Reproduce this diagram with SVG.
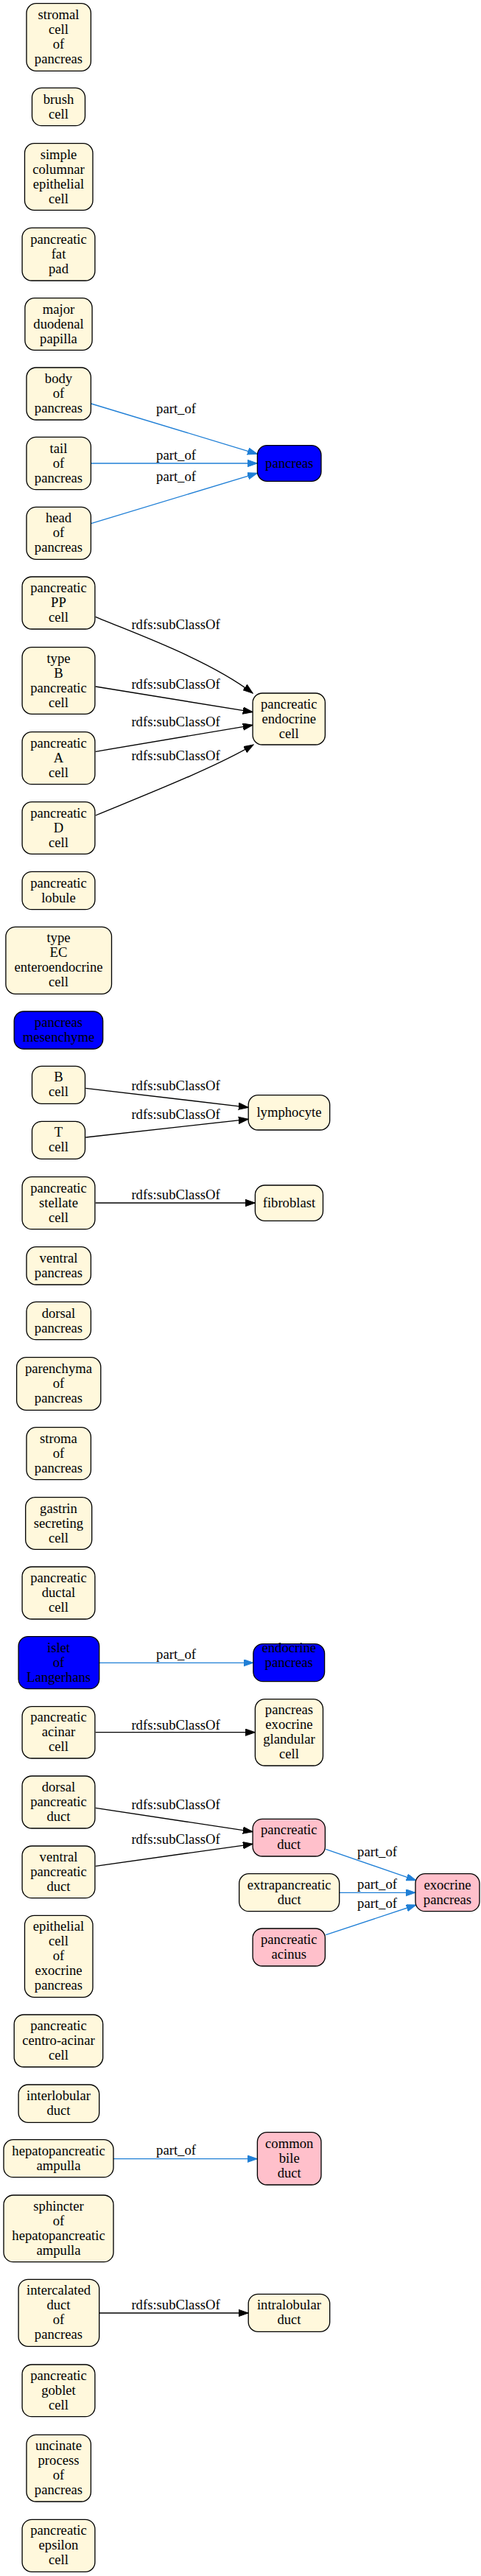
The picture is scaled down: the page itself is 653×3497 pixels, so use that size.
<svg xmlns="http://www.w3.org/2000/svg" width="653" height="3497" viewBox="0 0 653 3497">
<style>
g rect{stroke:#000;stroke-width:1.33}
.c{fill:#fff8dc}.b{fill:#0000ff}.p{fill:#ffc0cb}
text{font-family:"Liberation Serif","Times New Roman",serif;font-size:18.67px;text-anchor:middle;fill:#000}
.e{fill:none;stroke-width:1.33}
.k{stroke:#000}.u{stroke:#1f7fd6}
</style>
<defs>
<marker id="ak" markerUnits="userSpaceOnUse" markerWidth="14" markerHeight="10" refX="13.3" refY="4.65" orient="auto"><path d="M0,0 L13.3,4.65 L0,9.3 z" fill="#000" stroke="#000" stroke-width="1"/></marker>
<marker id="au" markerUnits="userSpaceOnUse" markerWidth="14" markerHeight="10" refX="13.3" refY="4.65" orient="auto"><path d="M0,0 L13.3,4.65 L0,9.3 z" fill="#1f7fd6" stroke="#1f7fd6" stroke-width="1"/></marker>
</defs>
<g id="edges">
<path class="e u" marker-end="url(#au)" d="M123.8,548 L349.4,616.3"/>
<text x="239" y="560.7">part_of</text>
<path class="e u" marker-end="url(#au)" d="M123.8,629 L349.4,629"/>
<text x="239" y="624.3">part_of</text>
<path class="e u" marker-end="url(#au)" d="M123.8,710.7 L349.4,642.3"/>
<text x="239" y="652.7">part_of</text>
<path class="e k" marker-end="url(#ak)" d="M129.7,837.3 C170,855 280,893 343.1,941"/>
<text x="238.5" y="854.3">rdfs:subClassOf</text>
<path class="e k" marker-end="url(#ak)" d="M129.7,932 L343.1,966.7"/>
<text x="238.5" y="935.3">rdfs:subClassOf</text>
<path class="e k" marker-end="url(#ak)" d="M129.7,1020.3 L343.1,984.3"/>
<text x="238.5" y="986">rdfs:subClassOf</text>
<path class="e k" marker-end="url(#ak)" d="M129.7,1107 C190,1082 290,1043 344,1011"/>
<text x="238.5" y="1032">rdfs:subClassOf</text>
<path class="e k" marker-end="url(#ak)" d="M116.3,1477.3 L337.2,1503.3"/>
<text x="238.5" y="1480">rdfs:subClassOf</text>
<path class="e k" marker-end="url(#ak)" d="M116.3,1544 L337.2,1519.3"/>
<text x="238.5" y="1518.7">rdfs:subClassOf</text>
<path class="e k" marker-end="url(#ak)" d="M129.7,1633 L346.4,1633"/>
<text x="238.5" y="1628.3">rdfs:subClassOf</text>
<path class="e u" marker-end="url(#au)" d="M134.7,2257.3 L343.9,2257.3"/>
<text x="239" y="2252.3">part_of</text>
<path class="e k" marker-end="url(#ak)" d="M129.7,2351.7 L346.4,2351.7"/>
<text x="238.5" y="2348">rdfs:subClassOf</text>
<path class="e k" marker-end="url(#ak)" d="M129.7,2454.3 L343.1,2486.7"/>
<text x="238.5" y="2456">rdfs:subClassOf</text>
<path class="e k" marker-end="url(#ak)" d="M129.7,2533.3 L343.1,2503.3"/>
<text x="238.5" y="2503">rdfs:subClassOf</text>
<path class="e u" marker-end="url(#au)" d="M442.3,2510.3 L564.9,2552.7"/>
<text x="512" y="2520.3">part_of</text>
<path class="e u" marker-end="url(#au)" d="M460.7,2569.3 L564,2569.3"/>
<text x="512" y="2564.3">part_of</text>
<path class="e u" marker-end="url(#au)" d="M442.3,2626.7 L564.9,2586"/>
<text x="512" y="2590.3">part_of</text>
<path class="e u" marker-end="url(#au)" d="M154,2930.7 L349.4,2930.7"/>
<text x="239" y="2925">part_of</text>
<path class="e k" marker-end="url(#ak)" d="M134.7,3140 L337.2,3140"/>
<text x="238.5" y="3135">rdfs:subClassOf</text>
</g>
<g id="n1"><rect class="c" x="36" y="4.7" width="87.4" height="91.6" rx="13"/><text x="79.5" y="26.1">stromal</text><text x="79.5" y="46.1">cell</text><text x="79.5" y="66.1">of</text><text x="79.5" y="86.1">pancreas</text></g>
<g id="n2"><rect class="c" x="43.5" y="119.3" width="72" height="51.4" rx="13"/><text x="79.5" y="140.6">brush</text><text x="79.5" y="160.6">cell</text></g>
<g id="n3"><rect class="c" x="33.5" y="194.7" width="92.5" height="90.6" rx="13"/><text x="79.5" y="215.6">simple</text><text x="79.5" y="235.6">columnar</text><text x="79.5" y="255.6">epithelial</text><text x="79.5" y="275.6">cell</text></g>
<g id="n4"><rect class="c" x="30.1" y="309.3" width="98.8" height="71.7" rx="13"/><text x="79.5" y="330.8">pancreatic</text><text x="79.5" y="350.8">fat</text><text x="79.5" y="370.8">pad</text></g>
<g id="n5"><rect class="c" x="33.9" y="404.7" width="91.2" height="70.6" rx="13"/><text x="79.5" y="425.6">major</text><text x="79.5" y="445.6">duodenal</text><text x="79.5" y="465.6">papilla</text></g>
<g id="n6"><rect class="c" x="36" y="499" width="87.4" height="71" rx="13"/><text x="79.5" y="520.1">body</text><text x="79.5" y="540.1">of</text><text x="79.5" y="560.1">pancreas</text></g>
<g id="n7"><rect class="c" x="36" y="593.3" width="87.4" height="71.4" rx="13"/><text x="79.5" y="614.6">tail</text><text x="79.5" y="634.6">of</text><text x="79.5" y="654.6">pancreas</text></g>
<g id="n8"><rect class="c" x="36" y="688.3" width="87.4" height="71" rx="13"/><text x="79.5" y="709.4">head</text><text x="79.5" y="729.4">of</text><text x="79.5" y="749.4">pancreas</text></g>
<g id="n9"><rect class="c" x="30.1" y="783" width="98.8" height="71" rx="13"/><text x="79.5" y="804.1">pancreatic</text><text x="79.5" y="824.1">PP</text><text x="79.5" y="844.1">cell</text></g>
<g id="n10"><rect class="c" x="30.1" y="878.7" width="98.8" height="90.6" rx="13"/><text x="79.5" y="899.6">type</text><text x="79.5" y="919.6">B</text><text x="79.5" y="939.6">pancreatic</text><text x="79.5" y="959.6">cell</text></g>
<g id="n11"><rect class="c" x="30.1" y="993.7" width="98.8" height="71" rx="13"/><text x="79.5" y="1014.8">pancreatic</text><text x="79.5" y="1034.8">A</text><text x="79.5" y="1054.8">cell</text></g>
<g id="n12"><rect class="c" x="30.1" y="1088.7" width="98.8" height="70.6" rx="13"/><text x="79.5" y="1109.6">pancreatic</text><text x="79.5" y="1129.6">D</text><text x="79.5" y="1149.6">cell</text></g>
<g id="n13"><rect class="c" x="30.1" y="1183.3" width="98.8" height="51.4" rx="13"/><text x="79.5" y="1204.6">pancreatic</text><text x="79.5" y="1224.6">lobule</text></g>
<g id="n14"><rect class="c" x="7.9" y="1258.3" width="143.6" height="91" rx="13"/><text x="79.5" y="1279.4">type</text><text x="79.5" y="1299.4">EC</text><text x="79.5" y="1319.4">enteroendocrine</text><text x="79.5" y="1339.4">cell</text></g>
<g id="n15"><rect class="b" x="19.2" y="1373" width="120.5" height="51" rx="13"/><text x="79.5" y="1394.1">pancreas</text><text x="79.5" y="1414.1">mesenchyme</text></g>
<g id="n16"><rect class="c" x="43.5" y="1447.3" width="72" height="51" rx="13"/><text x="79.5" y="1468.4">B</text><text x="79.5" y="1488.4">cell</text></g>
<g id="n17"><rect class="c" x="43.5" y="1522.3" width="72" height="51" rx="13"/><text x="79.5" y="1543.4">T</text><text x="79.5" y="1563.4">cell</text></g>
<g id="n18"><rect class="c" x="30.1" y="1597.7" width="98.8" height="71" rx="13"/><text x="79.5" y="1618.8">pancreatic</text><text x="79.5" y="1638.8">stellate</text><text x="79.5" y="1658.8">cell</text></g>
<g id="n19"><rect class="c" x="36" y="1692.7" width="87.4" height="51.3" rx="13"/><text x="79.5" y="1713.9">ventral</text><text x="79.5" y="1733.9">pancreas</text></g>
<g id="n20"><rect class="c" x="36" y="1767.3" width="87.4" height="51.4" rx="13"/><text x="79.5" y="1788.6">dorsal</text><text x="79.5" y="1808.6">pancreas</text></g>
<g id="n21"><rect class="c" x="22.6" y="1842.7" width="114.2" height="71.6" rx="13"/><text x="79.5" y="1864.1">parenchyma</text><text x="79.5" y="1884.1">of</text><text x="79.5" y="1904.1">pancreas</text></g>
<g id="n22"><rect class="c" x="36" y="1937.7" width="87.4" height="71" rx="13"/><text x="79.5" y="1958.8">stroma</text><text x="79.5" y="1978.8">of</text><text x="79.5" y="1998.8">pancreas</text></g>
<g id="n23"><rect class="c" x="34.7" y="2032.7" width="90" height="70.6" rx="13"/><text x="79.5" y="2053.6">gastrin</text><text x="79.5" y="2073.6">secreting</text><text x="79.5" y="2093.6">cell</text></g>
<g id="n24"><rect class="c" x="30.1" y="2127" width="98.8" height="71" rx="13"/><text x="79.5" y="2148.1">pancreatic</text><text x="79.5" y="2168.1">ductal</text><text x="79.5" y="2188.1">cell</text></g>
<g id="n25"><rect class="b" x="25.1" y="2221.7" width="109.6" height="71" rx="13"/><text x="79.5" y="2242.8">islet</text><text x="79.5" y="2262.8">of</text><text x="79.5" y="2282.8">Langerhans</text></g>
<g id="n26"><rect class="c" x="30.1" y="2316.7" width="98.8" height="70.3" rx="13"/><text x="79.5" y="2337.4">pancreatic</text><text x="79.5" y="2357.4">acinar</text><text x="79.5" y="2377.4">cell</text></g>
<g id="n27"><rect class="c" x="30.1" y="2411" width="98.8" height="71" rx="13"/><text x="79.5" y="2432.1">dorsal</text><text x="79.5" y="2452.1">pancreatic</text><text x="79.5" y="2472.1">duct</text></g>
<g id="n28"><rect class="c" x="30.1" y="2506" width="98.8" height="70.7" rx="13"/><text x="79.5" y="2526.9">ventral</text><text x="79.5" y="2546.9">pancreatic</text><text x="79.5" y="2566.9">duct</text></g>
<g id="n29"><rect class="c" x="33.5" y="2600.3" width="92.5" height="111" rx="13"/><text x="79.5" y="2621.4">epithelial</text><text x="79.5" y="2641.4">cell</text><text x="79.5" y="2661.4">of</text><text x="79.5" y="2681.4">exocrine</text><text x="79.5" y="2701.4">pancreas</text></g>
<g id="n30"><rect class="c" x="19.2" y="2735" width="120.5" height="71" rx="13"/><text x="79.5" y="2756.1">pancreatic</text><text x="79.5" y="2776.1">centro-acinar</text><text x="79.5" y="2796.1">cell</text></g>
<g id="n31"><rect class="c" x="25.1" y="2830" width="109.6" height="51.3" rx="13"/><text x="79.5" y="2851.3">interlobular</text><text x="79.5" y="2871.3">duct</text></g>
<g id="n32"><rect class="c" x="5" y="2904.7" width="149" height="51" rx="13"/><text x="79.5" y="2925.8">hepatopancreatic</text><text x="79.5" y="2945.8">ampulla</text></g>
<g id="n33"><rect class="c" x="5" y="2980" width="149" height="90.7" rx="13"/><text x="79.5" y="3000.9">sphincter</text><text x="79.5" y="3020.9">of</text><text x="79.5" y="3040.9">hepatopancreatic</text><text x="79.5" y="3060.9">ampulla</text></g>
<g id="n34"><rect class="c" x="25.1" y="3094.3" width="109.6" height="91" rx="13"/><text x="79.5" y="3115.4">intercalated</text><text x="79.5" y="3135.4">duct</text><text x="79.5" y="3155.4">of</text><text x="79.5" y="3175.4">pancreas</text></g>
<g id="n35"><rect class="c" x="30.1" y="3210" width="98.8" height="70.7" rx="13"/><text x="79.5" y="3230.9">pancreatic</text><text x="79.5" y="3250.9">goblet</text><text x="79.5" y="3270.9">cell</text></g>
<g id="n36"><rect class="c" x="36" y="3305.3" width="87.4" height="90.7" rx="13"/><text x="79.5" y="3326.3">uncinate</text><text x="79.5" y="3346.3">process</text><text x="79.5" y="3366.3">of</text><text x="79.5" y="3386.3">pancreas</text></g>
<g id="n37"><rect class="c" x="30.1" y="3420.3" width="98.8" height="71" rx="13"/><text x="79.5" y="3441.4">pancreatic</text><text x="79.5" y="3461.4">epsilon</text><text x="79.5" y="3481.4">cell</text></g>
<g id="m1"><rect class="b" x="349.4" y="604.7" width="86.6" height="48.6" rx="13"/><text x="392.7" y="634.6">pancreas</text></g>
<g id="m2"><rect class="c" x="343.1" y="941" width="98.3" height="70" rx="13"/><text x="392.25" y="961.6">pancreatic</text><text x="392.25" y="981.6">endocrine</text><text x="392.25" y="1001.6">cell</text></g>
<g id="m3"><rect class="c" x="337.2" y="1486.7" width="110.5" height="47.3" rx="13"/><text x="392.45" y="1515.9">lymphocyte</text></g>
<g id="m4"><rect class="c" x="346.4" y="1609" width="92.1" height="48.3" rx="13"/><text x="392.45" y="1638.8">fibroblast</text></g>
<g id="m5"><rect class="b" x="343.9" y="2231.7" width="96.7" height="51" rx="13"/><text x="392.25" y="2242.8">endocrine</text><text x="392.25" y="2262.8">pancreas</text></g>
<g id="m6"><rect class="c" x="346.4" y="2306.7" width="92.1" height="90.3" rx="13"/><text x="392.45" y="2327.4">pancreas</text><text x="392.45" y="2347.4">exocrine</text><text x="392.45" y="2367.4">glandular</text><text x="392.45" y="2387.4">cell</text></g>
<g id="m7"><rect class="p" x="343.1" y="2469.3" width="98.3" height="50.7" rx="13"/><text x="392.25" y="2490.3">pancreatic</text><text x="392.25" y="2510.3">duct</text></g>
<g id="m8"><rect class="c" x="324.7" y="2543.7" width="136" height="51" rx="13"/><text x="392.7" y="2564.8">extrapancreatic</text><text x="392.7" y="2584.8">duct</text></g>
<g id="m9"><rect class="p" x="343.1" y="2618" width="98.3" height="51" rx="13"/><text x="392.25" y="2639.1">pancreatic</text><text x="392.25" y="2659.1">acinus</text></g>
<g id="m10"><rect class="p" x="349.4" y="2894.7" width="86.6" height="71.3" rx="13"/><text x="392.7" y="2915.9">common</text><text x="392.7" y="2935.9">bile</text><text x="392.7" y="2955.9">duct</text></g>
<g id="m11"><rect class="c" x="337.2" y="3114.3" width="110.5" height="51" rx="13"/><text x="392.45" y="3135.4">intralobular</text><text x="392.45" y="3155.4">duct</text></g>
<g id="r1"><rect class="p" x="564" y="2543.7" width="87" height="51" rx="13"/><text x="607.5" y="2564.8">exocrine</text><text x="607.5" y="2584.8">pancreas</text></g>
</svg>
